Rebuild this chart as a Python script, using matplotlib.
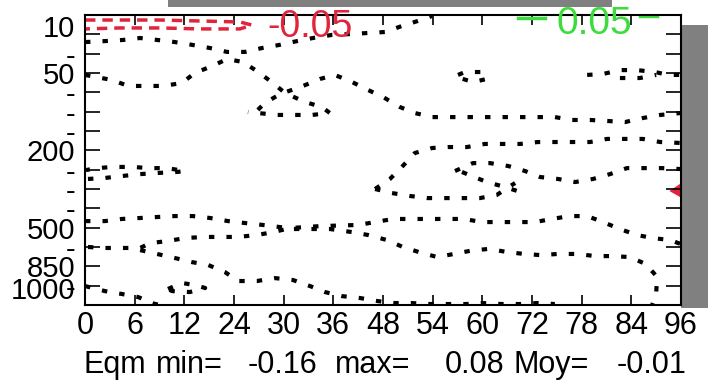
import numpy as np
import matplotlib
matplotlib.use('Agg')
import matplotlib.pyplot as plt
from matplotlib.patches import Rectangle

plt.rcParams['font.family'] = ['Liberation Sans', 'DejaVu Sans']

# echeances (h) et niveaux (hPa)
hours = ['0', '6', '12', '24', '30', '36', '48', '54', '60', '72', '78', '84', '96']
levels = [10, 20, 30, 50, 70, 100, 150, 200, 250, 300, 400, 500, 700, 850, 925, 1000]
level_labels = ['10', '', '-', '50', '-', '-', '-', '200', '-', '-', '-', '500', '-', '850', '-', '1000']

# isolignes noires pointillees (x = indice d'echeance, y = indice de niveau)
c1_x = [0.00, 0.40, 0.77, 1.11, 1.45, 1.81, 2.17, 2.52, 2.86, 3.22, 3.56, 3.91, 4.27, 4.59, 4.97, 5.38, 5.70, 6.04, 6.38, 6.70, 6.99]
c1_y = [1.40, 1.35, 1.29, 1.19, 1.29, 1.40, 1.55, 1.71, 1.91, 1.91, 1.71, 1.55, 1.35, 1.19, 1.03, 0.98, 0.93, 0.88, 0.57, 0.31, 0.05]

c2_x = [0.00, 0.54, 0.87, 1.25, 1.57, 1.95, 2.21, 2.56, 2.86, 3.18, 3.46, 3.76, 4.03, 4.43, 4.77, 4.93, 4.57, 4.23, 3.87, 3.48, 3.28]
c2_y = [3.10, 3.36, 3.67, 3.67, 3.67, 3.52, 3.00, 2.64, 2.28, 2.43, 2.90, 3.47, 4.04, 4.50, 4.76, 5.07, 5.17, 5.17, 5.17, 5.07, 5.02]

c3_x = [3.48, 3.62, 3.93, 4.39, 4.73, 5.03, 5.38, 5.70, 6.00, 6.34, 6.64, 6.99, 7.35, 7.69, 8.03, 8.40, 8.76, 9.10, 9.46, 9.80, 10.17, 10.51, 10.87, 11.23, 11.58, 12.00]
c3_y = [4.91, 4.55, 4.09, 3.67, 3.31, 3.10, 3.47, 3.88, 4.24, 4.76, 5.07, 5.28, 5.28, 5.28, 5.28, 5.28, 5.28, 5.28, 5.28, 5.43, 5.43, 5.48, 5.54, 5.33, 5.17, 5.07]

c4_x = [5.84, 6.14, 6.38, 6.64, 6.99, 7.31, 7.69, 8.05, 8.42, 8.76, 9.12, 9.46, 9.82, 10.17, 10.51, 10.87, 11.23, 11.58, 12.00]
c4_y = [9.00, 8.48, 7.86, 7.14, 6.88, 6.83, 6.83, 6.67, 6.67, 6.67, 6.57, 6.57, 6.57, 6.57, 6.41, 6.41, 6.41, 6.57, 6.62]

c5_x = [5.84, 6.18, 6.54, 6.89, 7.25, 7.61, 7.95, 8.29, 8.50, 8.66]
c5_y = [9.00, 9.21, 9.36, 9.47, 9.47, 9.47, 9.47, 9.31, 8.95, 8.69]

c6_x = [7.59, 7.79, 8.09, 8.46, 8.70]
c6_y = [8.12, 8.33, 8.64, 8.90, 9.10]

c7_x = [7.45, 7.81, 8.15, 8.52, 8.86, 9.16, 9.52, 9.87, 10.23, 10.57, 10.91, 11.23, 11.62, 12.00]
c7_y = [8.07, 7.66, 7.66, 7.81, 8.07, 8.38, 8.48, 8.64, 8.48, 8.23, 7.92, 7.92, 7.92, 7.97]

c8_x = [7.51, 7.65, 7.99, 8.09, 7.81, 7.55, 7.51]
c8_y = [3.10, 2.95, 2.95, 3.31, 3.47, 3.26, 3.10]

c9_x = [10.11, 10.43, 10.77, 11.11, 11.48, 11.74, 12.00]
c9_y = [3.10, 3.05, 2.85, 2.85, 2.95, 3.10, 3.10]

c10_x = [10.77, 11.17, 11.50]
c10_y = [3.26, 3.26, 3.10]

c11_x = [0.06, 0.40, 0.74, 1.11, 1.47, 1.85, 2.01, 1.65, 1.31, 0.95, 0.56, 0.24, 0.02]
c11_y = [8.48, 8.43, 8.33, 8.23, 8.17, 8.12, 8.07, 7.92, 7.92, 7.86, 7.86, 7.92, 8.02]

c12_x = [0.00, 0.40, 0.74, 1.11, 1.45, 1.81, 2.17, 2.52, 2.88, 3.22, 3.58, 3.93, 4.19, 4.49, 4.93, 5.38, 5.70, 6.08, 6.40, 6.72, 7.09, 7.43, 7.79, 8.13, 8.50, 8.84, 9.18, 9.52, 9.91, 10.27, 10.61, 10.97, 11.29, 11.52, 11.50, 11.42]
c12_y = [10.66, 10.66, 10.55, 10.50, 10.45, 10.40, 10.40, 10.50, 10.66, 10.76, 10.86, 10.97, 11.07, 11.07, 11.07, 11.23, 11.38, 11.64, 12.00, 12.26, 12.52, 12.36, 12.18, 12.10, 12.26, 12.36, 12.42, 12.36, 12.36, 12.47, 12.47, 12.52, 12.88, 13.55, 14.38, 15.00]

c13_x = [0.06, 0.40, 0.77, 1.11, 1.31, 1.67, 2.01, 2.38, 2.72, 3.08, 3.46, 3.79, 4.13, 4.73, 5.50, 5.84, 6.20, 6.54, 6.91, 7.29, 7.63, 7.99, 8.33, 8.70, 9.06, 9.40, 9.76, 10.11, 10.43, 10.77, 11.11, 11.44, 11.78, 12.00]
c13_y = [12.00, 12.05, 12.05, 12.05, 11.80, 11.69, 11.54, 11.48, 11.48, 11.48, 11.38, 11.23, 11.02, 10.92, 10.86, 10.71, 10.55, 10.55, 10.55, 10.55, 10.55, 10.71, 10.71, 10.71, 10.71, 10.55, 10.40, 10.40, 10.71, 11.07, 11.38, 11.54, 11.64, 11.85]

c14_x = [1.11, 1.45, 1.81, 2.15, 2.48, 2.82, 3.08, 3.46, 3.83, 4.19, 4.53, 4.83, 5.17, 5.54, 5.90, 6.24, 6.58, 6.95, 7.29, 7.67, 8.01, 8.40, 8.76, 9.10, 9.46]
c14_y = [12.16, 12.36, 12.57, 12.78, 12.93, 13.30, 13.76, 13.76, 13.61, 13.71, 14.02, 14.33, 14.54, 14.64, 14.80, 14.90, 14.90, 14.95, 14.95, 14.95, 14.90, 14.95, 14.95, 14.90, 14.95]

c15_x = [0.00, 0.40, 0.74, 1.07, 1.41, 1.55]
c15_y = [14.02, 14.28, 14.43, 14.59, 14.95, 15.00]

c16_x = [1.67, 1.95, 2.21, 2.42, 2.11, 1.75, 1.67]
c16_y = [14.17, 13.86, 13.97, 14.12, 14.33, 14.28, 14.17]

# isolignes -0.05 (rouge) et 0.05 (vert)
neg1_x = [0.00, 0.70, 1.51, 2.32, 3.12, 3.36, 3.12, 2.32, 1.51, 0.70, 0.00]
neg1_y = [0.26, 0.26, 0.26, 0.31, 0.36, 0.52, 0.72, 0.72, 0.67, 0.67, 0.72]
neg2_x = [12.00, 11.82, 12.00]
neg2_y = [8.79, 9.10, 9.36]
pos1_x = [8.72, 9.26]
pos1_y = [0.16, 0.16]
pos2_x = [11.17, 11.52]
pos2_y = [0.05, 0.05]

# texte de bas de figure
stats_words = ['Eqm', 'min=', '-0.16', 'max=', '0.08', 'Moy=', '-0.01']
stats_left_px = [83, 156, 248, 335, 445, 513, 617]

black = [(c1_x, c1_y), (c2_x, c2_y), (c3_x, c3_y), (c4_x, c4_y), (c5_x, c5_y),
         (c6_x, c6_y), (c7_x, c7_y), (c8_x, c8_y), (c9_x, c9_y), (c10_x, c10_y),
         (c11_x, c11_y), (c12_x, c12_y), (c13_x, c13_y), (c14_x, c14_y),
         (c15_x, c15_y), (c16_x, c16_y)]

red = '#e0243c'
green = '#3cdc3c'

fig = plt.figure(figsize=(7.08, 3.88), dpi=100)
ax = fig.add_axes([85/708, 1 - 305/388, 596/708, 290/388])

# ombre grise
fig.add_artist(Rectangle((168/708, 1 - 7/388), 444/708, 7/388, transform=fig.transFigure,
                         facecolor='#808080', edgecolor='none', zorder=-1))
fig.add_artist(Rectangle((681/708, 1 - 308/388), 27/708, 283/388, transform=fig.transFigure,
                         facecolor='#808080', edgecolor='none', zorder=-1))

for x, y in black:
    ax.plot(x, y, color='k', lw=3, linestyle=(0, (1.3, 2.9)))

ax.plot(neg1_x, neg1_y, color=red, lw=2.5, linestyle=(0, (3, 2)), clip_on=False)
ax.fill(neg2_x, neg2_y, color=red, lw=2)
ax.plot(pos1_x, pos1_y, color=green, lw=2.5, clip_on=False)
ax.plot(pos2_x, pos2_y, color=green, lw=2.5, clip_on=False)

ax.text(3.68, 0.62, '-0.05', color=red, fontsize=27, ha='left', va='center', clip_on=False)
ax.text(9.50, 0.47, '0.05', color=green, fontsize=28, ha='left', va='center', clip_on=False)

ax.set_xlim(0, 12)
ax.set_ylim(15, 0)
ax.set_xticks(range(len(hours)), hours)
ax.set_yticks(range(len(levels)), level_labels)
ax.tick_params(axis='x', direction='in', length=7, width=1.2, top=True, labelsize=22, pad=4)
ax.tick_params(axis='y', direction='in', length=11, width=1.2, right=True, labelsize=21, pad=7)
ylab = ax.get_yticklabels()
ylab[0].set_va('top')
ylab[-1].set_va('bottom')
for s in ax.spines.values():
    s.set_linewidth(1.5)

for word, px in zip(stats_words, stats_left_px):
    fig.text(px/708, 15/388, word, fontsize=22, ha='left', va='baseline')

fig.savefig('out.png', dpi=100)
